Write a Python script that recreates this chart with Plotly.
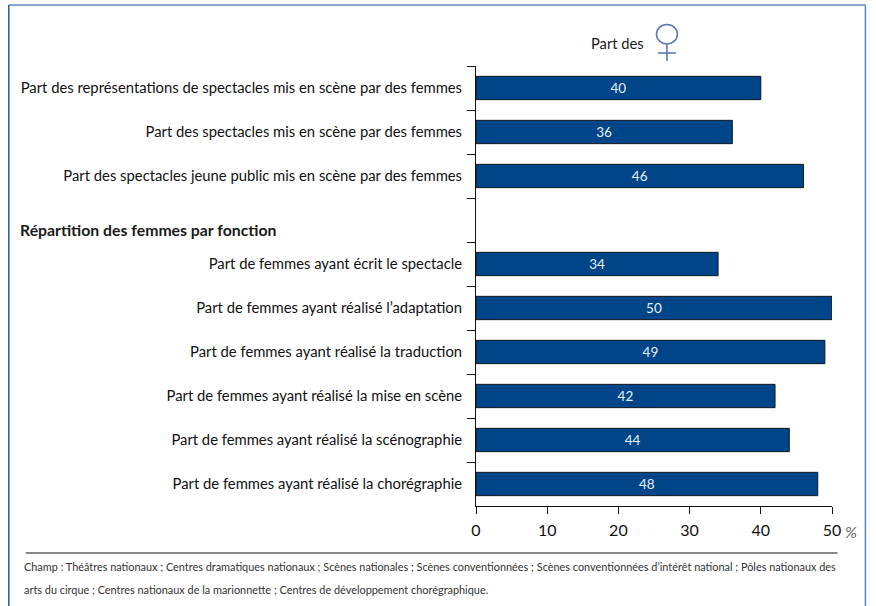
import plotly.graph_objects as go

FONT = "Lato, Liberation Sans, sans-serif"
categories = [
    "Part des représentations de spectacles mis en scène par des femmes",
    "Part des spectacles mis en scène par des femmes",
    "Part des spectacles jeune public mis en scène par des femmes",
    " ",
    "Part de femmes ayant écrit le spectacle",
    "Part de femmes ayant réalisé l’adaptation",
    "Part de femmes ayant réalisé la traduction",
    "Part de femmes ayant réalisé la mise en scène",
    "Part de femmes ayant réalisé la scénographie",
    "Part de femmes ayant réalisé la chorégraphie",
]
values = [40, 36, 46, None, 34, 50, 49, 42, 44, 48]
x_ticks = [0, 10, 20, 30, 40, 50]
header = "Répartition des femmes par fonction"
title = "Part des"
unit = "%"
note_1 = "Champ : Théâtres nationaux ; Centres dramatiques nationaux ; Scènes nationales ; Scènes conventionnées ; Scènes conventionnées d’intérêt national ; Pôles nationaux des"
note_2 = "arts du cirque ; Centres nationaux de la marionnette ; Centres de développement chorégraphique."

W, H = 876, 606
L, R, T, B = 475.5, 832.5, 66, 506


def px(x):
    return (x - L) / (R - L)


def py(y):
    return (B - y) / (B - T)


fig = go.Figure(go.Bar(
    y=categories, x=values, orientation="h", width=0.53,
    marker=dict(color="#004587", line=dict(color="#101820", width=1)),
    text=[None if v is None else str(v) for v in values],
    textposition="inside", insidetextanchor="middle", textangle=0,
    textfont=dict(family=FONT, size=13.5, color="#e6eef6"),
    cliponaxis=False, hoverinfo="skip",
))


def note(x, y, text, size, color="#1a1a1a", anchor="left", **font):
    fig.add_annotation(xref="paper", yref="paper", x=px(x), y=py(y), text=text,
                       showarrow=False, xanchor=anchor, yanchor="middle",
                       borderpad=0, borderwidth=0,
                       font=dict(family=FONT, size=size, color=color, **font))


note(18, 229, f"<b>{header}</b>", 15.8)
note(591, 43, title, 14.7)
note(846, 531, unit, 16, color="#666666", style="italic")
note(22, 566, note_1, 10.9, color="#333333")
note(22, 589, note_2, 10.9, color="#333333")

line_shapes = [
    (24, 553, 838, 553, "#111111", 1),
    (7, 5, 866, 5, "#5f8ab8", 1.5),
    (7, 5, 7, 606, "#1f5c9a", 1.5),
    (866, 5, 866, 606, "#5f8ab8", 1.5),
    (667, 44, 667, 61, "#5a78b4", 1.6),
    (658, 53, 676, 53, "#5a78b4", 1.6),
]
for x0, y0, x1, y1, c, w in line_shapes:
    fig.add_shape(type="line", xref="paper", yref="paper",
                  x0=px(x0), y0=py(y0), x1=px(x1), y1=py(y1),
                  line=dict(color=c, width=w))
fig.add_shape(type="circle", xref="paper", yref="paper",
              x0=px(656.5), y0=py(24.5), x1=px(677.5), y1=py(44),
              line=dict(color="#5a78b4", width=1.6))

fig.update_layout(
    width=W, height=H, autosize=False, showlegend=False,
    paper_bgcolor="white", plot_bgcolor="white",
    margin=dict(l=L, r=W - R, t=T, b=H - B, pad=0),
    font=dict(family=FONT, color="#111111"),
    xaxis=dict(range=[0, 50], tickvals=x_ticks, showgrid=False, zeroline=False,
               automargin=False,
               showline=True, linecolor="#111111", linewidth=1,
               ticks="outside", ticklen=7, tickcolor="#111111",
               ticklabelstandoff=3,
               tickfont=dict(size=16, family=FONT, color="#111111")),
    yaxis=dict(type="category", categoryorder="array", categoryarray=categories,
               autorange="reversed", tickson="boundaries", showgrid=False,
               automargin=False,
               zeroline=False, showline=True, linecolor="#111111", linewidth=1,
               ticks="outside", ticklen=8, tickcolor="#111111",
               ticklabelstandoff=10,
               tickfont=dict(size=14.8, family=FONT, color="#111111")),
)
# The browser's default 8 px body margin would push the figure off the frame.
fig.write_html("out.html", config={"displayModeBar": False},
               post_script="document.body.style.margin='0';document.body.style.overflow='hidden';")
